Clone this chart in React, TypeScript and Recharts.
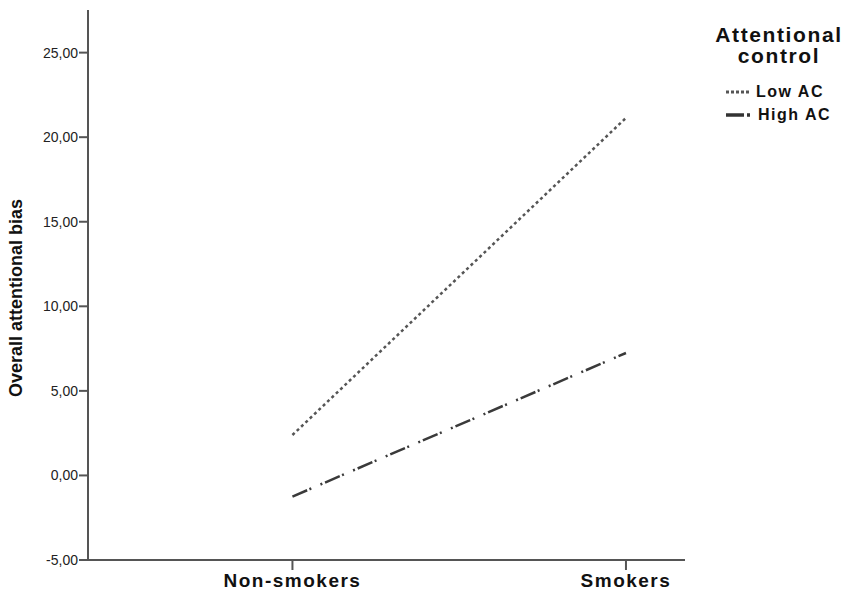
// Line chart: overall attentional bias by smoking status and attentional control.
import { LineChart, Line, XAxis, YAxis } from 'recharts'

const groups = ['Non-smokers', 'Smokers']
const lowAC = [2.39, 21.14]
const highAC = [-1.25, 7.24]
const yTicks = [-5, 0, 5, 10, 15, 20, 25]

const data = groups.map((g, i) => ({ x: i, group: g, low: lowAC[i], high: highAC[i] }))

const fmt = (v: number) => v.toFixed(2).replace('.', ',')
const FONT = 'Liberation Sans, Arial, sans-serif'

const LOW_DASH = '3 3'
const HIGH_DASH = '16 2.5 2 10 2 3'

function LegendBox() {
  return (
    <div style={{ position: 'absolute', left: 706, top: 24, width: 146, fontFamily: FONT, color: '#111', fontWeight: 'bold' }}>
      <div style={{ fontSize: 21, letterSpacing: 1.6, textAlign: 'center', lineHeight: '21px' }}>
        Attentional<br />control
      </div>
      <div style={{ marginTop: 14, fontSize: 16, letterSpacing: 1.5, lineHeight: '23px' }}>
        <div style={{ display: 'flex', alignItems: 'center' }}>
          <svg width={50} height={10}>
            <line x1={20} y1={5} x2={45} y2={5} stroke="#555" strokeWidth={3} strokeDasharray="3 2" />
          </svg>
          <span>Low AC</span>
        </div>
        <div style={{ display: 'flex', alignItems: 'center' }}>
          <svg width={52} height={10}>
            <line x1={20} y1={5} x2={46} y2={5} stroke="#333" strokeWidth={3.5} strokeDasharray="18 3 3 20" />
          </svg>
          <span>High AC</span>
        </div>
      </div>
    </div>
  )
}

const YLabel = () => (
  <text
    x={22}
    y={298}
    transform="rotate(-90 22 298)"
    textAnchor="middle"
    style={{ fontSize: 18, fontWeight: 'bold', fill: '#111', fontFamily: FONT }}
  >
    Overall attentional bias
  </text>
)

export default function App() {
  return (
    <div style={{ position: 'absolute', left: 0, top: 0, width: 850, height: 596, background: '#fff' }}>
      <LineChart width={850} height={596} data={data} margin={{ top: 10, right: 165, left: 0, bottom: 0 }}>
        <XAxis
          dataKey="x"
          type="number"
          domain={[-0.613, 1.177]}
          ticks={[0, 1]}
          tickFormatter={(v: number) => groups[v] ?? ''}
          height={36}
          stroke="#555"
          strokeWidth={2}
          tickSize={10}
          tickMargin={4}
          tick={{ fontSize: 19, fontWeight: 'bold', fill: '#111', fontFamily: FONT, letterSpacing: 1.5 }}
          allowDataOverflow
        />
        <YAxis
          type="number"
          domain={[-5, 27.52]}
          ticks={yTicks}
          tickFormatter={fmt}
          width={88}
          stroke="#555"
          strokeWidth={2}
          tickSize={9}
          tickMargin={1}
          tick={{ fontSize: 14, fill: '#222', fontFamily: FONT }}
          label={{ content: YLabel }}
          allowDataOverflow
        />
        <Line
          dataKey="low"
          name="Low AC"
          stroke="#555"
          strokeWidth={2.5}
          strokeDasharray={LOW_DASH}
          dot={false}
          activeDot={false}
          isAnimationActive={false}
        />
        <Line
          dataKey="high"
          name="High AC"
          stroke="#3a3a3a"
          strokeWidth={2.5}
          strokeDasharray={HIGH_DASH}
          dot={false}
          activeDot={false}
          isAnimationActive={false}
        />
      </LineChart>
      <LegendBox />
    </div>
  )
}
